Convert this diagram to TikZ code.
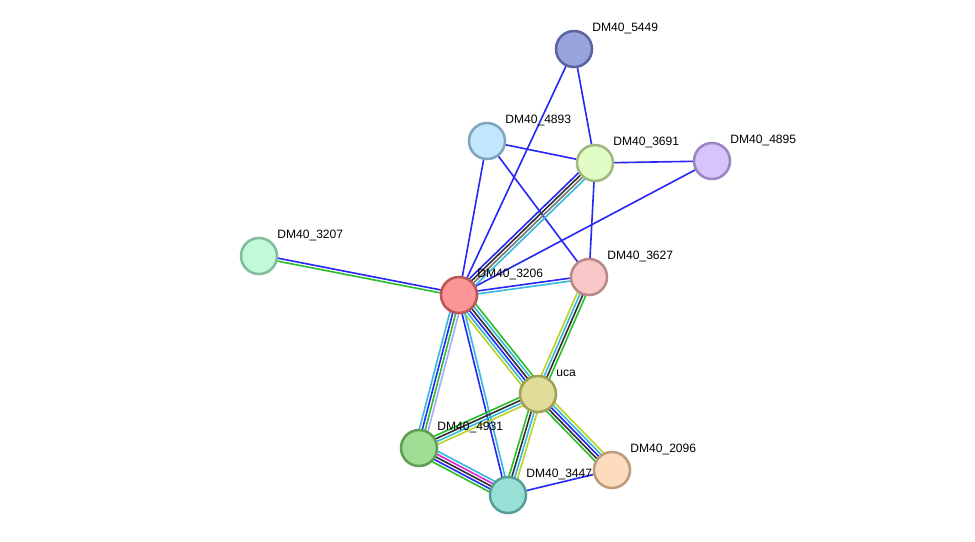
\documentclass[tikz,border=0pt]{standalone}
\usepackage{fontspec}
\setmainfont{Liberation Sans}
\usetikzlibrary{calc}
\pgfdeclarelayer{bg}
\pgfsetlayers{bg,main}

\definecolor{sblue}{RGB}{40,40,245}
\definecolor{scyan}{RGB}{55,185,220}
\definecolor{sgreen}{RGB}{45,190,45}
\definecolor{sblack}{RGB}{50,50,50}
\definecolor{sgray}{RGB}{120,120,120}
\definecolor{syellow}{RGB}{190,210,40}
\definecolor{smagenta}{RGB}{220,40,220}
\definecolor{slav}{RGB}{170,170,255}

\definecolor{d5449}{RGB}{90,100,160}   \definecolor{f5449}{RGB}{152,164,222}
\definecolor{d4893}{RGB}{126,166,192}  \definecolor{f4893}{RGB}{194,230,251}
\definecolor{d3691}{RGB}{162,184,130}  \definecolor{f3691}{RGB}{225,252,196}
\definecolor{d4895}{RGB}{154,134,194}  \definecolor{f4895}{RGB}{214,196,251}
\definecolor{d3207}{RGB}{130,188,156}  \definecolor{f3207}{RGB}{192,250,217}
\definecolor{d3206}{RGB}{188,86,86}    \definecolor{f3206}{RGB}{252,149,149}
\definecolor{d3627}{RGB}{186,136,136}  \definecolor{f3627}{RGB}{248,200,200}
\definecolor{duca}{RGB}{160,160,88}    \definecolor{fuca}{RGB}{223,221,152}
\definecolor{d4931}{RGB}{94,158,86}    \definecolor{f4931}{RGB}{158,221,146}
\definecolor{d3447}{RGB}{88,158,150}   \definecolor{f3447}{RGB}{152,224,214}
\definecolor{d2096}{RGB}{188,156,124}  \definecolor{f2096}{RGB}{252,220,188}

% #1,#2 nodes, #3 number of lines, #4 colours (first one on the left of #1->#2)
\newcommand{\bond}[4]{%
\begin{pgfonlayer}{bg}
\foreach \c [count=\i] in {#4}{
\pgfmathsetmacro\off{((#3+1)/2-\i)*2.1}
\draw[\c,line width=1.15pt] ($(#1)!\off pt!90:(#2)$) -- ($(#2)!\off pt!-90:(#1)$);
}
\end{pgfonlayer}}

\begin{document}
\begin{tikzpicture}[x=0.025cm,y=-0.025cm,
prot/.style={circle,draw=d#1,fill=f#1,line width=1.8pt,minimum size=0.9cm,inner sep=0pt},
lbl/.style={anchor=west,font=\fontsize{8.6}{10}\selectfont,inner sep=0pt}]
\begin{pgfonlayer}{bg}
\fill[white](0,0)rectangle(975,541);
\end{pgfonlayer}
\useasboundingbox(0,0)rectangle(975,541);

\node[prot=5449] (n5449) at (574,49) {};
\node[prot=4893] (n4893) at (487,141) {};
\node[prot=3691] (n3691) at (595,163) {};
\node[prot=4895] (n4895) at (712,161) {};
\node[prot=3207] (n3207) at (259,256) {};
\node[prot=3206] (n3206) at (459,295) {};
\node[prot=3627] (n3627) at (589,277) {};
\node[prot=uca] (nuca) at (538,394) {};
\node[prot=4931] (n4931) at (419,448) {};
\node[prot=3447] (n3447) at (508,495) {};
\node[prot=2096] (n2096) at (612,470) {};

\node[lbl] (l5449) at ([shift={(18,-21)}]n5449) {DM40\_5449};
\node[lbl] (l4893) at ([shift={(18,-21)}]n4893) {DM40\_4893};
\node[lbl] (l3691) at ([shift={(18,-21)}]n3691) {DM40\_3691};
\node[lbl] (l4895) at ([shift={(18,-21)}]n4895) {DM40\_4895};
\node[lbl] (l3207) at ([shift={(18,-21)}]n3207) {DM40\_3207};
\node[lbl] (l3206) at ([shift={(18,-21)}]n3206) {DM40\_3206};
\node[lbl] (l3627) at ([shift={(18,-21)}]n3627) {DM40\_3627};
\node[lbl] (luca) at ([shift={(18,-21)}]nuca) {uca};
\node[lbl] (l4931) at ([shift={(18,-21)}]n4931) {DM40\_4931};
\node[lbl] (l3447) at ([shift={(18,-21)}]n3447) {DM40\_3447};
\node[lbl] (l2096) at ([shift={(18,-21)}]n2096) {DM40\_2096};

\bond{n5449}{n3206}{1}{sblue}
\bond{n5449}{n3691}{1}{sblue}
\bond{n4893}{n3206}{1}{sblue}
\bond{n4893}{n3691}{1}{sblue}
\bond{n4893}{n3627}{1}{sblue}
\bond{n3691}{n4895}{1}{sblue}
\bond{n3691}{n3627}{1}{sblue}
\bond{n4895}{n3206}{1}{sblue}
\bond{n3691}{n3206}{4}{scyan,sgray,sblack,sblue}
\bond{n3207}{n3206}{2}{sblue,sgreen}
\bond{n3206}{n3627}{2}{sblue,scyan}
\bond{n3206}{nuca}{6}{sgreen,scyan,sblack,sblue,scyan,syellow}
\bond{n3206}{n4931}{4}{slav,sgreen,sblue,scyan}
\bond{n3206}{n3447}{2}{scyan,sblue}
\bond{n3627}{nuca}{4}{sgreen,sblack,scyan,syellow}
\bond{nuca}{n4931}{4}{syellow,scyan,sblack,sgreen}
\bond{nuca}{n3447}{4}{syellow,scyan,sblack,sgreen}
\bond{nuca}{n2096}{5}{syellow,scyan,sblue,sblack,sgreen}
\bond{n4931}{n3447}{5}{scyan,smagenta,sblack,sblue,sgreen}
\bond{n3447}{n2096}{1}{sblue}
\end{tikzpicture}
\end{document}
